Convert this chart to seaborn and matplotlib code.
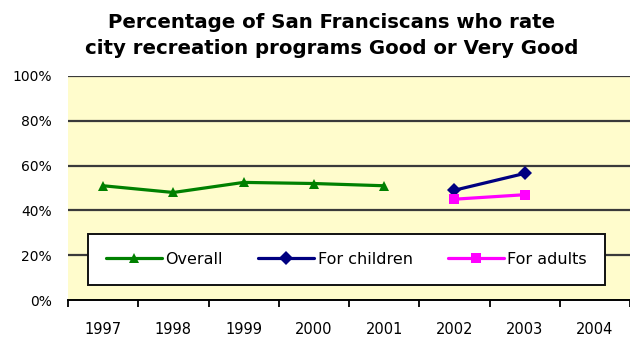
import matplotlib
matplotlib.use("Agg")
import matplotlib.pyplot as plt
from matplotlib.ticker import FixedLocator, NullFormatter, FuncFormatter
import seaborn as sns
import pandas as pd

# Survey results (percent rating Good or Very Good)
years_overall = [1997, 1998, 1999, 2000, 2001]
overall = [51, 48, 52.5, 52, 51]
years_split = [2002, 2003]
children = [49, 56.5]
adults = [45, 47]
all_years = [1997, 1998, 1999, 2000, 2001, 2002, 2003, 2004]
y_ticks = [0, 20, 40, 60, 80, 100]

df = pd.concat([
    pd.DataFrame({"year": years_overall, "pct": overall, "series": "Overall"}),
    pd.DataFrame({"year": years_split, "pct": children, "series": "For children"}),
    pd.DataFrame({"year": years_split, "pct": adults, "series": "For adults"}),
])

sns.set_theme(style="white")
plt.rcParams["font.family"] = ["DejaVu Sans"]
plt.rcParams["text.color"] = "black"

fig = plt.figure(figsize=(6.30, 3.37), dpi=100)
ax = fig.add_axes([68 / 630, 1 - 300 / 337, 562 / 630, 224 / 337])
ax.set_facecolor("#FFFCCC")

palette = {"Overall": "#008000", "For children": "#000080", "For adults": "#FF00FF"}
markers = {"Overall": "^", "For children": "D", "For adults": "s"}
sns.lineplot(data=df, x="year", y="pct", hue="series", style="series",
             palette=palette, markers=markers, dashes=False, linewidth=2.3,
             markersize=7.5, markeredgewidth=0, ax=ax, zorder=3)

ax.set_xlim(1996.5, 2004.5)
ax.set_ylim(0, 100)
ax.set_xlabel("")
ax.set_ylabel("")

# Category boundaries carry the tick marks; year labels sit between them
ax.xaxis.set_major_locator(FixedLocator([y - 0.5 for y in all_years] + [2004.5]))
ax.xaxis.set_major_formatter(NullFormatter())
ax.xaxis.set_minor_locator(FixedLocator(all_years))
ax.xaxis.set_minor_formatter(FuncFormatter(lambda v, p: f"{int(round(v))}"))
ax.tick_params(axis="x", which="major", direction="out", length=5, width=1.3,
               color="black", bottom=True)
ax.tick_params(axis="x", which="minor", length=0, pad=16, labelsize=10.5,
               labelcolor="black")

ax.set_yticks(y_ticks)
ax.yaxis.set_major_formatter(FuncFormatter(lambda v, p: f"{int(v)}%"))
ax.tick_params(axis="y", length=0, pad=11.5, labelsize=10, labelcolor="black")

for v in y_ticks[1:]:
    ax.axhline(v, color="#3a3a3a", linewidth=1.6, zorder=1)

for side in ("left", "right", "top"):
    ax.spines[side].set_visible(False)
ax.spines["bottom"].set_color("black")
ax.spines["bottom"].set_linewidth(1.4)

leg = ax.legend(loc="center", bbox_to_anchor=(0.0356, 0.0, 0.92, 0.362),
                mode="expand", ncol=3, frameon=True, fancybox=False,
                fontsize=11.5, handlelength=3.5, handletextpad=0.2,
                columnspacing=1.5, borderpad=1.15, borderaxespad=0,
                markerscale=0.9, labelcolor="black")
leg.get_frame().set_edgecolor("#111111")
leg.get_frame().set_linewidth(1.4)
leg.get_frame().set_facecolor("white")
leg.get_frame().set_alpha(1)
leg.set_zorder(5)

fig.text(0.527, 0.960, "Percentage of San Franciscans who rate\ncity recreation programs Good or Very Good",
         ha="center", va="top", fontsize=14.2, fontweight="bold",
         color="black", linespacing=1.45)

fig.savefig("out.png", dpi=100, facecolor="white")
